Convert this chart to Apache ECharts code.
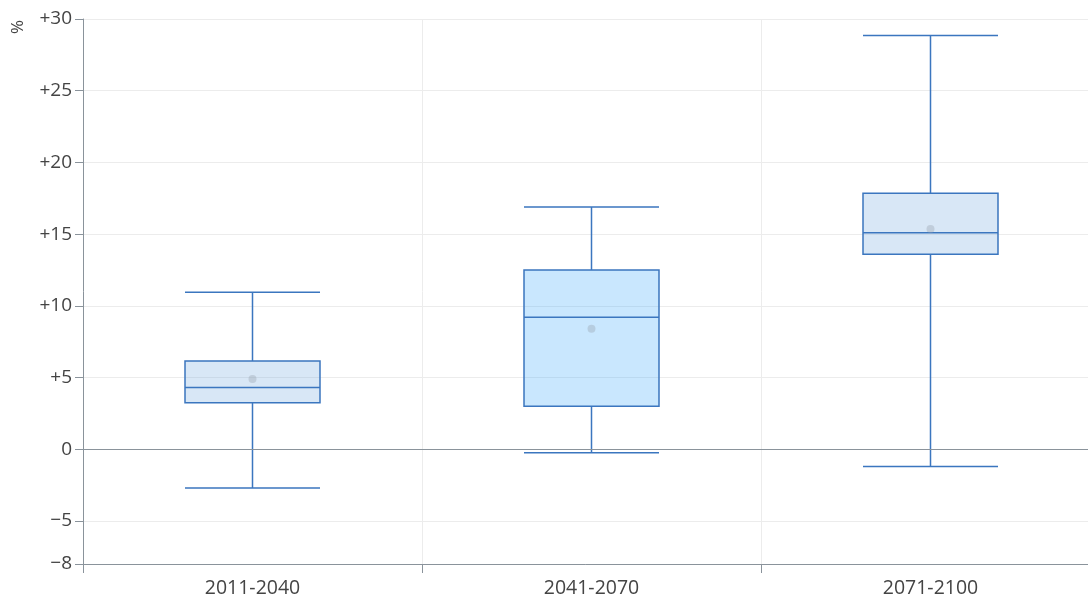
<!DOCTYPE html>
<html>
<head>
<meta charset="utf-8">
<script src="https://cdn.jsdelivr.net/npm/echarts@6/dist/echarts.min.js"></script>
<style>
  html, body { margin: 0; padding: 0; background: #fff; }
  #chart { width: 1088px; height: 595px; }
</style>
</head>
<body>
<div id="chart"></div>
<script>
  // periods on the x axis
  var periods = ['2011-2040', '2041-2070', '2071-2100']
  // [low whisker, Q1, median, Q3, high whisker] in %
  var lows = [-2.7, -0.25, -1.2]
  var q1s = [3.25, 3.0, 13.6]
  var medians = [4.3, 9.2, 15.1]
  var q3s = [6.15, 12.5, 17.85]
  var highs = [10.95, 16.9, 28.85]
  // mean of each period
  var means = [4.9, 8.4, 15.35]
  // y tick values
  var yTicks = [-8, -5, 0, 5, 10, 15, 20, 25, 30]

  var boxFills = ['rgba(99,160,220,0.25)', 'rgba(40,160,250,0.25)', 'rgba(99,160,220,0.25)']
  var labelFont = '"Open Sans", "Noto Sans", sans-serif'

  var boxData = periods.map(function (p, i) {
    return {
      value: [lows[i], q1s[i], medians[i], q3s[i], highs[i]],
      itemStyle: { color: boxFills[i] }
    }
  })

  var myChart = echarts.init(document.getElementById('chart'))
  var option = {
    animation: false,
    textStyle: { fontFamily: labelFont },
    grid: {
      left: 83,
      right: -12,
      top: 19,
      bottom: 31,
      containLabel: false,
      outerBoundsMode: 'none'
    },
    graphic: [{
      type: 'text',
      x: 16,
      y: 27,
      rotation: -Math.PI / 2,
      style: {
        text: '%',
        fontSize: 17,
        fontFamily: labelFont,
        fill: '#444',
        align: 'center',
        verticalAlign: 'middle'
      }
    }],
    xAxis: {
      type: 'category',
      data: periods,
      boundaryGap: true,
      axisLine: { onZero: false, lineStyle: { color: '#8a939b', width: 1 } },
      axisTick: { show: true, length: 9, lineStyle: { color: '#8a939b' } },
      splitLine: { show: true, lineStyle: { color: '#ececec' } },
      axisLabel: {
        color: '#444',
        fontSize: 19.5,
        margin: 14,
        fontFamily: labelFont
      }
    },
    yAxis: {
      type: 'value',
      min: -8,
      max: 30,
      axisLine: { show: true, lineStyle: { color: '#8a939b', width: 1 } },
      axisTick: { show: true, length: 8, customValues: yTicks, lineStyle: { color: '#8a939b' } },
      splitLine: { show: true, lineStyle: { color: '#ececec' } },
      axisLabel: {
        customValues: yTicks,
        color: '#444',
        fontSize: 19,
        margin: 11,
        fontFamily: labelFont,
        formatter: function (v) {
          if (v > 0) return '+' + v
          if (v < 0) return '\u2212' + Math.abs(v)
          return '0'
        }
      }
    },
    series: [{
      type: 'boxplot',
      data: boxData,
      boxWidth: [135, 135],
      itemStyle: {
        borderColor: '#3b76bf',
        borderWidth: 1.5
      },
      markLine: {
        silent: true,
        symbol: 'none',
        label: { show: false },
        lineStyle: { color: '#8a939b', type: 'solid', width: 1.2 },
        data: [{ yAxis: 0 }]
      },
      z: 2
    }, {
      type: 'scatter',
      data: means,
      symbol: 'circle',
      symbolSize: 8,
      itemStyle: { color: 'rgba(150,160,172,0.45)' },
      z: 3
    }]
  }
  myChart.setOption(option)
</script>
</body>
</html>
